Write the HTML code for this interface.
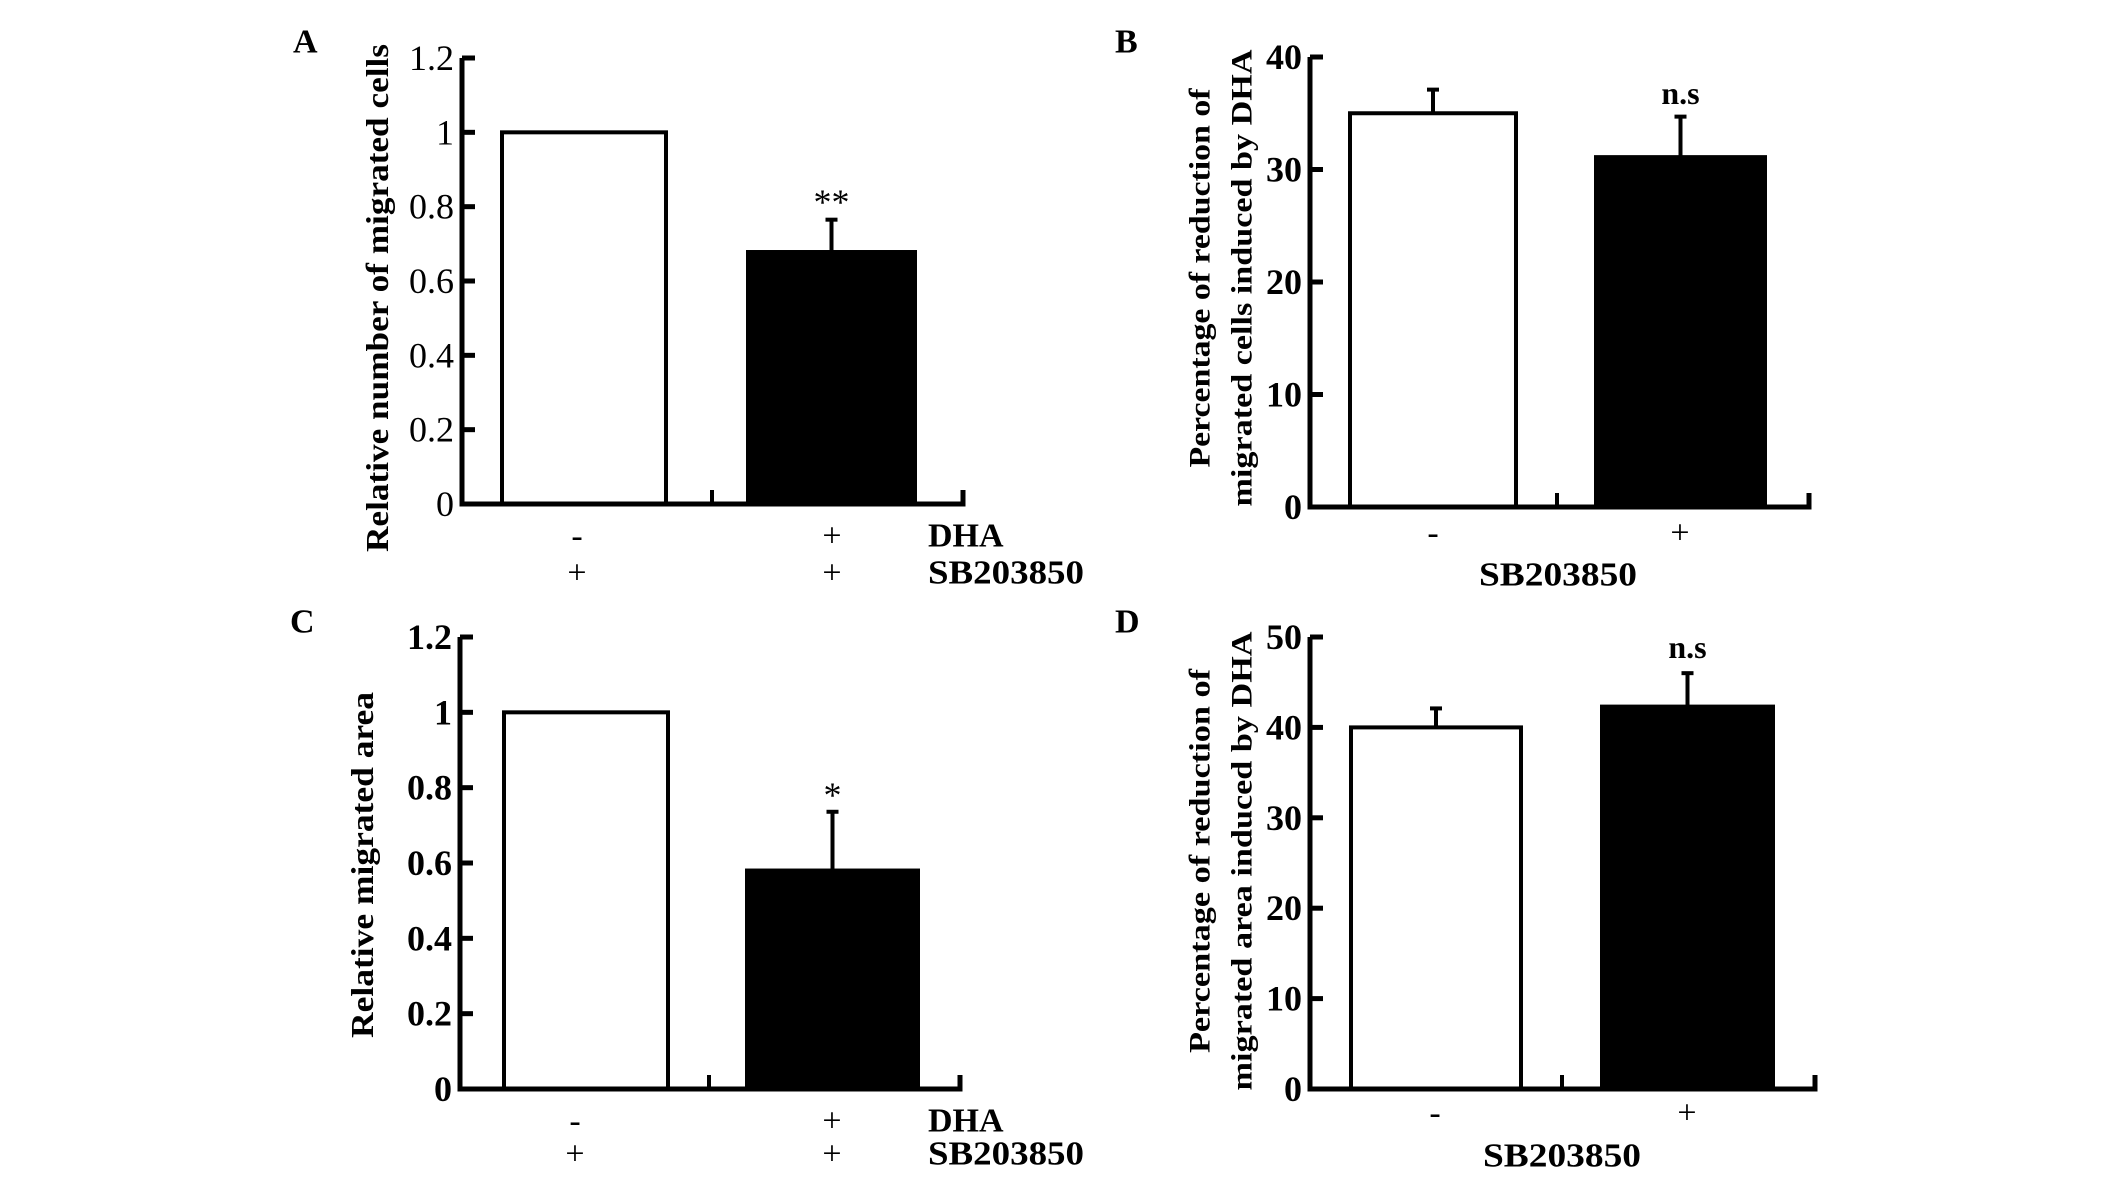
<!DOCTYPE html>
<html><head><meta charset="utf-8"><style>
html,body{margin:0;padding:0;background:#fff;}
svg{display:block;font-family:"Liberation Serif",serif;}
</style></head><body>
<svg id="fig" width="2126" height="1192" viewBox="0 0 2126 1192" xmlns="http://www.w3.org/2000/svg"></svg>
<script>
const categories = ["-", "+"];
const valuesA = [1.0, 0.678];
const errorsA = [0, 0.087];
const valuesB = [35.0, 31.1];
const errorsB = [2.1, 3.6];
const valuesC = [1.0, 0.58];
const errorsC = [0, 0.156];
const valuesD = [40.0, 42.3];
const errorsD = [2.1, 3.7];
const ticksA = [0, 0.2, 0.4, 0.6, 0.8, 1, 1.2];
const ticksB = [0, 10, 20, 30, 40];
const ticksD = [0, 10, 20, 30, 40, 50];
const sigLabels = ["**", "n.s", "*", "n.s"];

const NS = "http://www.w3.org/2000/svg";
const svg = document.getElementById("fig");
function el(tag, attrs, parent) {
  const e = document.createElementNS(NS, tag);
  for (const k in attrs) e.setAttribute(k, attrs[k]);
  (parent || svg).appendChild(e);
  return e;
}
function txt(s, x, y, size, bold, anchor, parent) {
  const t = el("text", {x: x, y: y, "font-size": size, "font-weight": bold ? "bold" : "normal", "text-anchor": anchor || "middle", "dominant-baseline": "central", fill: "#000"}, parent);
  t.textContent = s;
  return t;
}

const panels = [
  {id:"a", letter:"A", vals:valuesA, errs:errorsA, ticks:ticksA, max:1.2, boldTicks:false,
   ax:462, top:58, zero:504, end:963, mid:712, bars:[[502,666],[748,915]], sig:sigLabels[0], sigY:202,
   titles:[{s:"Relative number of migrated cells", x:377, len:508}], titleY:298, titleSize:32,
   letterX:293, letterY:42, dha:true, rows:[536,573], labelX:[577,832], rowLabelX:928},
  {id:"b", letter:"B", vals:valuesB, errs:errorsB, ticks:ticksB, max:40, boldTicks:true,
   ax:1310, top:57, zero:507, end:1809, mid:1557, bars:[[1350,1516],[1596,1765]], sig:sigLabels[1], sigY:93,
   titles:[{s:"Percentage of reduction of", x:1200, len:379},{s:"migrated cells induced by DHA", x:1242, len:457}], titleY:278, titleSize:30,
   letterX:1115, letterY:42, dha:false, rows:[533], labelX:[1433,1680], sbX:1558, sbY:575},
  {id:"c", letter:"C", vals:valuesC, errs:errorsC, ticks:ticksA, max:1.2, boldTicks:true,
   ax:460, top:637, zero:1089, end:960, mid:709, bars:[[504,668],[747,918]], sig:sigLabels[2], sigY:795,
   titles:[{s:"Relative migrated area", x:362, len:346}], titleY:865, titleSize:32,
   letterX:290, letterY:622, dha:true, rows:[1121,1154], labelX:[575,832], rowLabelX:928},
  {id:"d", letter:"D", vals:valuesD, errs:errorsD, ticks:ticksD, max:50, boldTicks:true,
   ax:1310, top:637, zero:1089, end:1815, mid:1562, bars:[[1351,1521],[1602,1773]], sig:sigLabels[3], sigY:647,
   titles:[{s:"Percentage of reduction of", x:1200, len:384},{s:"migrated area induced by DHA", x:1242, len:459}], titleY:861, titleSize:30,
   letterX:1115, letterY:622, dha:false, rows:[1113], labelX:[1435,1687], sbX:1562, sbY:1156}
];

panels.forEach(p => {
  const g = el("g", {});
  
  
  const y = v => p.zero - (v / p.max) * (p.zero - p.top);

  const L = txt(p.letter, p.letterX, p.letterY, 34, true, "start", g);
  
  

  // bars
  p.vals.forEach((v, i) => {
    const [x0, x1] = p.bars[i];
    const r = el("rect", {x: x0, y: y(v), width: x1 - x0, height: p.zero - y(v),
      fill: i === 0 ? "#fff" : "#000", stroke: "#000", "stroke-width": 4}, g);
    
    
    if (p.errs[i] > 0) {
      const cx = (x0 + x1) / 2;
      const eg = el("g", {stroke: "#000", "stroke-width": 4}, g);
      
      
      el("line", {x1: cx, x2: cx, y1: y(v), y2: y(v + p.errs[i])}, eg);
      el("line", {x1: cx - 6, x2: cx + 6, y1: y(v + p.errs[i]), y2: y(v + p.errs[i])}, eg);
    }
  });

  // axes
  const axg = el("g", {stroke: "#000", "stroke-width": 5, fill: "none"}, g);
  
  
  el("path", {d: `M${p.ax},${p.top} V${p.zero} H${p.end} V${p.zero - 14}`}, axg);
  el("line", {x1: p.mid, x2: p.mid, y1: p.zero, y2: p.zero - 14, "stroke-width": 4}, axg);
  p.ticks.forEach(t => {
    el("line", {x1: p.ax, x2: p.ax + 13, y1: y(t), y2: y(t)}, axg);
    const tl = txt(String(t), p.ax - 8, y(t), 36, p.boldTicks, "end", g);
    
    
  });

  // significance
  const sx = (p.bars[1][0] + p.bars[1][1]) / 2;
  const st = txt(p.sig, sx, p.sigY, p.sig === "n.s" ? 32 : 36, p.sig === "n.s", "middle", g);
  
  

  // y titles
  p.titles.forEach((t, k) => {
    const tt = txt(t.s, t.x, p.titleY, p.titleSize, true, "middle", g);
    tt.setAttribute("transform", `rotate(-90 ${t.x} ${p.titleY})`);
    tt.setAttribute("textLength", t.len);
    tt.setAttribute("lengthAdjust", "spacingAndGlyphs");
    
    
  });

  // x labels
  if (p.dha) {
    const r1 = [categories[0], categories[1]];
    r1.forEach((c, i) => {
      const t = txt(c, p.labelX[i], p.rows[0], 34, false, "middle", g);
      
      
      const t2 = txt("+", p.labelX[i], p.rows[1], 34, false, "middle", g);
      
      
    });
    const d = txt("DHA", p.rowLabelX, p.rows[0], 34, true, "start", g);
    
    
    const s = txt("SB203850", p.rowLabelX, p.rows[1], 34, true, "start", g);
    s.setAttribute("textLength", 156);
    s.setAttribute("lengthAdjust", "spacingAndGlyphs");
    
    
  } else {
    categories.forEach((c, i) => {
      const t = txt(c, p.labelX[i], p.rows[0], 34, false, "middle", g);
      
      
    });
    const s = txt("SB203850", p.sbX, p.sbY, 34, true, "middle", g);
    s.setAttribute("textLength", 158);
    s.setAttribute("lengthAdjust", "spacingAndGlyphs");
    
    
  }
});
</script>
</body></html>
